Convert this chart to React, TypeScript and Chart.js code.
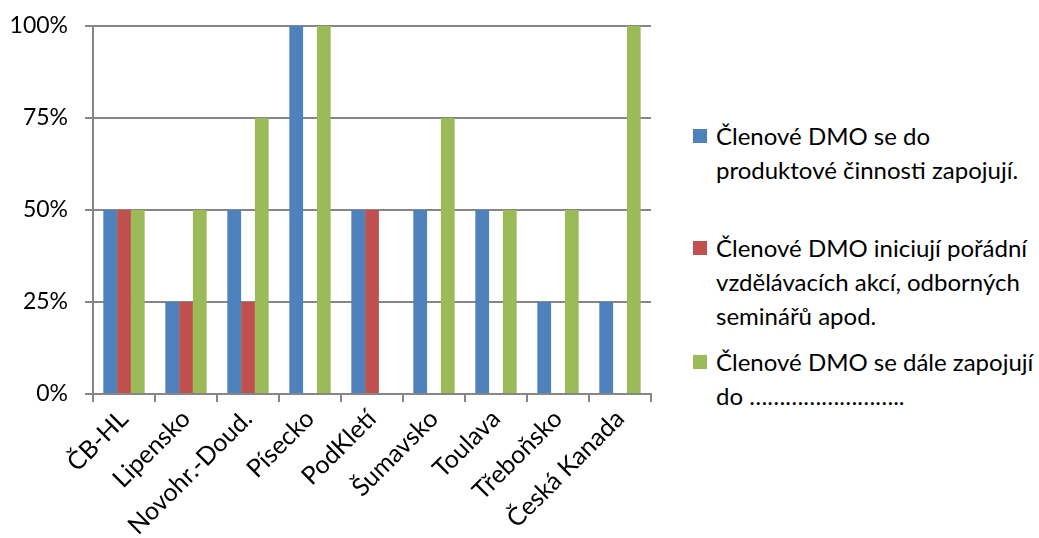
import React, { useEffect, useRef } from 'react';
import { Chart, registerables } from 'chart.js';

Chart.register(...registerables);

const categories = ['ČB-HL', 'Lipensko', 'Novohr.-Doud.', 'Písecko', 'PodKletí', 'Šumavsko', 'Toulava', 'Třeboňsko', 'Česká Kanada'];
const productValues = [50, 25, 50, 100, 50, 50, 50, 25, 25];
const educationValues = [50, 25, 25, 0, 50, 0, 0, 0, 0];
const otherValues = [50, 50, 75, 100, 0, 75, 50, 50, 100];
const seriesLabels = [
  ['Členové DMO se do', 'produktové činnosti zapojují.'],
  ['Členové DMO iniciují pořádní', 'vzdělávacích akcí, odborných', 'seminářů apod.'],
  ['Členové DMO se dále zapojují', 'do ……………………..'],
];
const seriesColors = ['#4F81BD', '#C0504D', '#9BBB59'];
const yTickValues = [0, 25, 50, 75, 100];

const legendTops = [119, 231, 345];
const FONT = 'Lato, "Open Sans", sans-serif';

export default function App() {
  const ref = useRef<HTMLCanvasElement | null>(null);

  useEffect(() => {
    if (!ref.current) return;
    const gridColor = '#868686';
    const chart = new Chart(ref.current, {
      type: 'bar',
      data: {
        labels: categories,
        datasets: [productValues, educationValues, otherValues].map((d, i) => ({
          label: seriesLabels[i].join(' '),
          data: d,
          backgroundColor: seriesColors[i],
          borderWidth: 0,
          categoryPercentage: 0.667,
          barPercentage: 1,
        })),
      },
      options: {
        animation: false,
        responsive: false,
        devicePixelRatio: 1,
        layout: { padding: { top: 26, right: 19, left: 0, bottom: 0 } },
        plugins: { legend: { display: false }, tooltip: { enabled: false } },
        scales: {
          x: {
            grid: { drawOnChartArea: false, drawTicks: true, tickLength: 8, color: gridColor, lineWidth: 2 },
            border: { display: true, color: gridColor, width: 2 },
            ticks: {
              autoSkip: false,
              minRotation: 45,
              maxRotation: 45,
              padding: 2,
              color: '#000',
              font: { family: FONT, size: 25 },
            },
            afterFit: (scale: any) => {
              scale.height = 144;
              scale.paddingLeft = 0;
              scale.paddingRight = 0;
            },
          },
          y: {
            min: 0,
            max: 100,
            afterBuildTicks: (scale: any) => { scale.ticks = yTickValues.map((v) => ({ value: v })); },
            grid: { color: gridColor, lineWidth: 2, tickLength: 8, drawTicks: true },
            border: { display: true, color: gridColor, width: 2 },
            ticks: {
              padding: 17,
              color: '#000',
              font: { family: FONT, size: 23 },
              callback: (v: any) => v + '%',
            },
            afterFit: (scale: any) => {
              scale.width = 93;
              scale.paddingTop = 0;
              scale.paddingBottom = 0;
            },
          },
        },
      },
    });
    return () => chart.destroy();
  }, []);

  return (
    <div style={{ position: 'fixed', left: 0, top: 0, width: 1039, height: 538, background: '#fff', fontFamily: FONT }}>
      <canvas ref={ref} width={670} height={538} style={{ position: 'absolute', left: 0, top: 0, width: 670, height: 538 }} />
      {seriesLabels.map((lines, i) => (
        <div key={i} style={{ position: 'absolute', left: 693, top: legendTops[i], width: 346 }}>
          <div style={{ position: 'absolute', left: 0, top: 10, width: 14, height: 14, background: seriesColors[i] }} />
          <div style={{ position: 'absolute', left: 23, top: 0, fontSize: 24, lineHeight: '34px', color: '#000', whiteSpace: 'pre' }}>
            {lines.map((l, j) => (
              <div key={j}>{l}</div>
            ))}
          </div>
        </div>
      ))}
    </div>
  );
}
